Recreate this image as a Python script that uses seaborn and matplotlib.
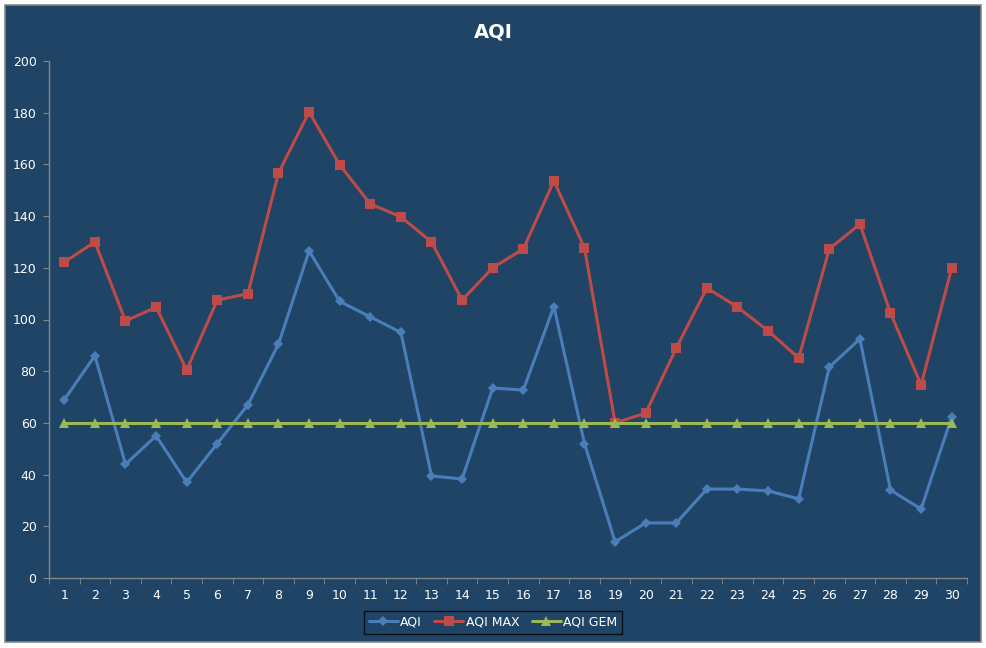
import numpy as np
import pandas as pd
import matplotlib
matplotlib.use("Agg")
import matplotlib.pyplot as plt
from matplotlib.patches import Rectangle
import seaborn as sns

# AQI values per day
days = list(range(1, 31))
aqi = [69, 86, 44, 55, 37, 52, 67, 90.5, 126.5, 107, 101, 95, 39.5, 38.3, 73.5,
       72.7, 105, 52, 14, 21.3, 21.3, 34.4, 34.4, 33.7, 30.6, 81.6, 92.5, 34, 26.7, 62.3]
aqi_max = [122.2, 130, 99.4, 104.8, 80.5, 107.5, 110, 156.7, 180.3, 159.8, 144.7, 139.7, 130, 107.5, 120,
           127.3, 153.6, 127.7, 60, 63.8, 89, 112.2, 104.8, 95.6, 85.1, 127.3, 136.9, 102.5, 74.7, 119.9]
aqi_gem = [60] * 30

bg = "#1F4466"
axis_col = "#868686"

sns.set_style("white")
plt.rcParams["font.family"] = ["DejaVu Sans"]

fig = plt.figure(figsize=(9.87, 6.48), dpi=100)
fig.patch.set_facecolor("white")
# chart area panel with grey border (Excel look)
fig.patches.append(Rectangle((5 / 987, 1 - 642 / 648), 976 / 987, 637 / 648,
                             transform=fig.transFigure, facecolor=bg,
                             edgecolor=axis_col, linewidth=1.2, zorder=-10))

ax = fig.add_axes([49 / 987, 1 - 578 / 648, 918 / 987, 517 / 648])
ax.set_facecolor(bg)
ax.patch.set_alpha(0)

df = pd.DataFrame({"pos": np.arange(len(days)), "AQI": aqi, "AQI MAX": aqi_max, "AQI GEM": aqi_gem})

sns.lineplot(data=df, x="pos", y="AQI", ax=ax, color="#4A7EBB", linewidth=2.2,
             marker="D", markersize=5.5, markeredgewidth=0, label="AQI")
sns.lineplot(data=df, x="pos", y="AQI MAX", ax=ax, color="#BE4B48", linewidth=2.2,
             marker="s", markersize=7, markeredgewidth=0, label="AQI MAX")
sns.lineplot(data=df, x="pos", y="AQI GEM", ax=ax, color="#98B954", linewidth=2.2,
             marker="^", markersize=7, markeredgewidth=0, label="AQI GEM")

ax.set_xlim(-0.5, len(days) - 0.5)
ax.set_ylim(0, 200)
ax.set_yticks(range(0, 201, 20))
ax.set_xticks(df["pos"])
ax.set_xticklabels([str(d) for d in days])
ax.set_xticks(np.arange(-0.5, len(days), 1), minor=True)
ax.set_xlabel("")
ax.set_ylabel("")

for s in ["top", "right"]:
    ax.spines[s].set_visible(False)
for s in ["left", "bottom"]:
    ax.spines[s].set_color(axis_col)
    ax.spines[s].set_linewidth(1)

ax.tick_params(axis="y", direction="out", length=4, color=axis_col, colors="white",
               labelsize=9, pad=5, left=True)
ax.tick_params(axis="x", which="major", length=0, colors="white", labelsize=9, pad=8)
ax.tick_params(axis="x", which="minor", length=4, color=axis_col, direction="out", bottom=True)
for lbl in ax.get_xticklabels() + ax.get_yticklabels():
    lbl.set_color("white")

fig.text(493 / 987, 1 - 32 / 648, "AQI", ha="center", va="center", color="white",
         fontsize=14, fontweight="bold")

leg = ax.legend(loc="center", bbox_to_anchor=(493 / 987, 1 - 622 / 648),
                bbox_transform=fig.transFigure, ncol=3, frameon=True, fontsize=9,
                handlelength=2.3, columnspacing=1.0, handletextpad=0.2,
                borderpad=0.4, fancybox=False)
leg.get_frame().set_facecolor(bg)
leg.get_frame().set_edgecolor("black")
leg.get_frame().set_linewidth(1)
for t in leg.get_texts():
    t.set_color("white")

fig.savefig("out.png", dpi=100, facecolor=fig.get_facecolor())
